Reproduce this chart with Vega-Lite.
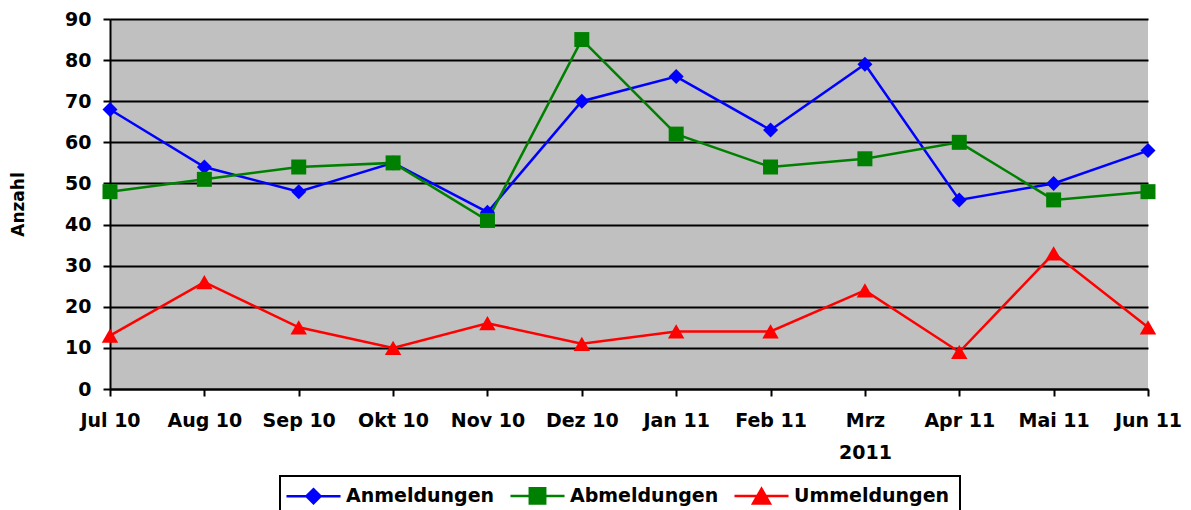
{
  "$schema": "https://vega.github.io/schema/vega-lite/v6.json",
  "width": 1038,
  "height": 370,
  "autosize": "none",
  "padding": {"left": 110, "top": 19, "right": 43, "bottom": 121},
  "background": "white",
  "data": {
    "values": [
      {"month": "Jul 10", "series": "Anmeldungen", "value": 68},
      {"month": "Aug 10", "series": "Anmeldungen", "value": 54},
      {"month": "Sep 10", "series": "Anmeldungen", "value": 48},
      {"month": "Okt 10", "series": "Anmeldungen", "value": 55},
      {"month": "Nov 10", "series": "Anmeldungen", "value": 43},
      {"month": "Dez 10", "series": "Anmeldungen", "value": 70},
      {"month": "Jan 11", "series": "Anmeldungen", "value": 76},
      {"month": "Feb 11", "series": "Anmeldungen", "value": 63},
      {"month": "Mrz 2011", "series": "Anmeldungen", "value": 79},
      {"month": "Apr 11", "series": "Anmeldungen", "value": 46},
      {"month": "Mai 11", "series": "Anmeldungen", "value": 50},
      {"month": "Jun 11", "series": "Anmeldungen", "value": 58},
      {"month": "Jul 10", "series": "Abmeldungen", "value": 48},
      {"month": "Aug 10", "series": "Abmeldungen", "value": 51},
      {"month": "Sep 10", "series": "Abmeldungen", "value": 54},
      {"month": "Okt 10", "series": "Abmeldungen", "value": 55},
      {"month": "Nov 10", "series": "Abmeldungen", "value": 41},
      {"month": "Dez 10", "series": "Abmeldungen", "value": 85},
      {"month": "Jan 11", "series": "Abmeldungen", "value": 62},
      {"month": "Feb 11", "series": "Abmeldungen", "value": 54},
      {"month": "Mrz 2011", "series": "Abmeldungen", "value": 56},
      {"month": "Apr 11", "series": "Abmeldungen", "value": 60},
      {"month": "Mai 11", "series": "Abmeldungen", "value": 46},
      {"month": "Jun 11", "series": "Abmeldungen", "value": 48},
      {"month": "Jul 10", "series": "Ummeldungen", "value": 13},
      {"month": "Aug 10", "series": "Ummeldungen", "value": 26},
      {"month": "Sep 10", "series": "Ummeldungen", "value": 15},
      {"month": "Okt 10", "series": "Ummeldungen", "value": 10},
      {"month": "Nov 10", "series": "Ummeldungen", "value": 16},
      {"month": "Dez 10", "series": "Ummeldungen", "value": 11},
      {"month": "Jan 11", "series": "Ummeldungen", "value": 14},
      {"month": "Feb 11", "series": "Ummeldungen", "value": 14},
      {"month": "Mrz 2011", "series": "Ummeldungen", "value": 24},
      {"month": "Apr 11", "series": "Ummeldungen", "value": 9},
      {"month": "Mai 11", "series": "Ummeldungen", "value": 33},
      {"month": "Jun 11", "series": "Ummeldungen", "value": 15}
    ]
  },
  "encoding": {
    "x": {
      "field": "month",
      "type": "ordinal",
      "sort": ["Jul 10", "Aug 10", "Sep 10", "Okt 10", "Nov 10", "Dez 10", "Jan 11", "Feb 11", "Mrz 2011", "Apr 11", "Mai 11", "Jun 11"],
      "scale": {"type": "point", "padding": 0},
      "axis": {
        "title": null,
        "labelAngle": 0,
        "labelExpr": "datum.value == 'Mrz 2011' ? ['Mrz', '2011'] : datum.value",
        "labelPadding": 15,
        "labelLineHeight": 32,
        "grid": false
      }
    },
    "y": {
      "field": "value",
      "type": "quantitative",
      "scale": {"domain": [0, 90], "nice": false},
      "axis": {
        "title": "Anzahl",
        "values": [0, 10, 20, 30, 40, 50, 60, 70, 80, 90],
        "labelPadding": 12,
        "titlePadding": 37,
        "grid": true
      }
    },
    "color": {
      "field": "series",
      "type": "nominal",
      "scale": {"domain": ["Anmeldungen", "Abmeldungen", "Ummeldungen"], "range": ["#0000FF", "#008000", "#FF0000"]},
      "legend": {"title": null}
    }
  },
  "layer": [
    {
      "mark": {"type": "line", "strokeWidth": 2.5},
      "encoding": {}
    },
    {
      "transform": [{"filter": "datum.series == 'Anmeldungen'"}],
      "mark": {"type": "point", "filled": true, "opacity": 1, "size": 225, "shape": "diamond"},
      "encoding": {}
    },
    {
      "transform": [{"filter": "datum.series == 'Abmeldungen'"}],
      "mark": {"type": "point", "filled": true, "opacity": 1, "size": 225, "shape": "square"},
      "encoding": {}
    },
    {
      "transform": [{"filter": "datum.series == 'Ummeldungen'"}],
      "mark": {"type": "point", "filled": true, "opacity": 1, "size": 270, "shape": "triangle-up"},
      "encoding": {}
    },
    {
      "mark": {"type": "point", "filled": true, "opacity": 0, "size": 196},
      "encoding": {
        "shape": {
          "field": "series",
          "type": "nominal",
          "scale": {
            "domain": ["Anmeldungen", "Abmeldungen", "Ummeldungen"],
            "range": ["M-3.86,0H3.86M-1,0L0,-1L1,0L0,1Z", "M-3.86,0H3.86M-1.1,-1.1H1.1V1.1H-1.1Z", "M-3.86,0H3.86M-1.2,1.05L0,-1.05L1.2,1.05Z"]
          },
          "legend": {"title": null}
        }
      }
    }
  ],
  "config": {
    "view": {"fill": "#C0C0C0", "stroke": null},
    "font": "DejaVu Sans",
    "axis": {
      "labelFont": "DejaVu Sans",
      "labelFontSize": 19,
      "labelFontWeight": "bold",
      "labelColor": "black",
      "titleFont": "DejaVu Sans",
      "titleFontSize": 17,
      "titleFontWeight": "bold",
      "titleColor": "black",
      "domainColor": "black",
      "domainWidth": 2,
      "tickColor": "black",
      "tickWidth": 2,
      "tickSize": 7,
      "gridColor": "black",
      "gridWidth": 2,
      "gridOpacity": 1
    },
    "legend": {
      "orient": "none",
      "legendX": 170,
      "legendY": 457,
      "direction": "horizontal",
      "strokeColor": "black",
      "strokeWidth": 2,
      "padding": 10,
      "labelFont": "DejaVu Sans",
      "labelFontSize": 19,
      "labelFontWeight": "bold",
      "labelColor": "black",
      "labelOffset": 23,
      "symbolOffset": 14,
      "symbolSize": 196,
      "symbolStrokeWidth": 2.5,
      "symbolOpacity": 1,
      "columnPadding": 10
    }
  }
}
